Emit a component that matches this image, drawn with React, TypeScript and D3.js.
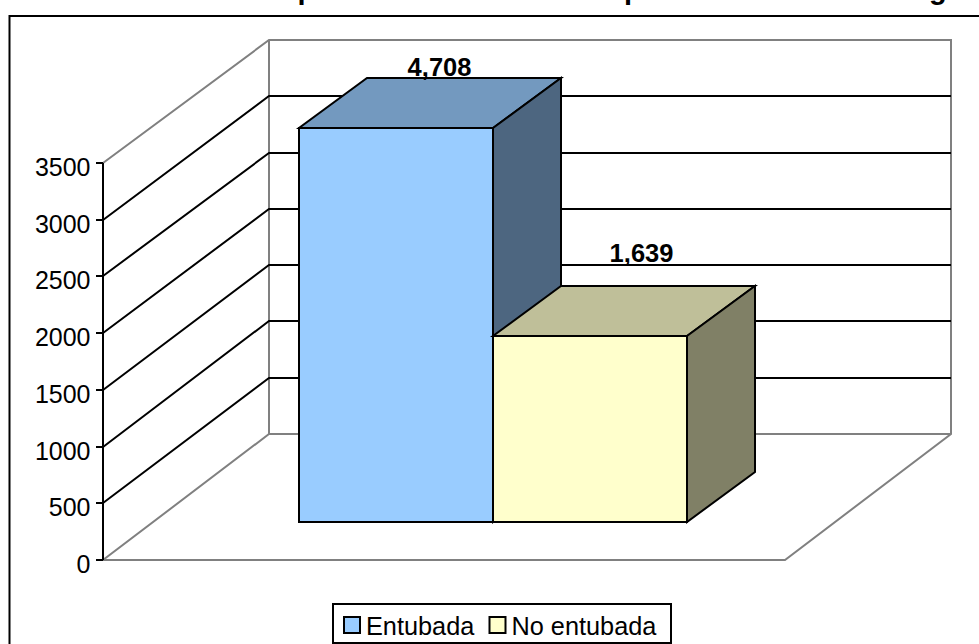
import React from "react";
import * as d3 from "d3";

// Values: the axis stops at 3500, so the taller bar is cut at the ceiling of the plot.
const seriesNames = ["Entubada", "No entubada"];
const seriesValues = [4708, 1639];
const seriesLabels = ["4,708", "1,639"];
const seriesColors = ["#99CCFF", "#FFFFCC"];
const axisTicks = [0, 500, 1000, 1500, 2000, 2500, 3000, 3500];
// The title is cropped by the top of the picture: only the descenders show, so its wording is inferred.
const titleWords = ["Viviendas", "particulares", "con", "disponibilidad", "de agua"];

const W = 979;
const H = 644;
const FONT = "'Liberation Sans', Arial, sans-serif";
const GREY = "#808080";

const shade = (c: string, k: number) => {
  const r = d3.rgb(c);
  return d3.rgb(r.r * k, r.g * k, r.b * k).formatHex();
};

export default function App() {
  // front and back planes of the 3D box
  const yFront = d3.scaleLinear().domain([0, 3500]).range([560, 163]);
  const yBack = d3.scaleLinear().domain([0, 3500]).range([434, 40]);
  const frontX = 103;
  const backX = 269;
  const frontRight = 785;
  const backRight = 951;
  const ddx = backX - frontX;
  const ddy = yFront(0) - yBack(0);
  const barNear = { x: 0.301, y: 0.303 };
  const barFar = { x: 0.711, y: 0.698 };

  const xBand = d3.scaleBand<string>().domain(seriesNames).range([249, 637]).padding(0);
  // bars rise on the front scale but cannot pass the box's ceiling
  const ceiling = yFront(0) - (yBack(0) - yBack(3500));
  const yBar = (v: number) => Math.max(yFront(v), ceiling);

  const project = (x: number, y: number, z: { x: number; y: number }): [number, number] => [
    x + ddx * z.x,
    y - ddy * z.y,
  ];
  const poly = (pts: [number, number][]) => pts.map((p) => `${Math.round(p[0])},${Math.round(p[1])}`).join(" ");

  const titleX = [154, 297.5, 470, 582, 871];
  const labelOffsets = [
    { dx: -24.5, dy: -2.5 },
    { dx: -16.5, dy: -24 },
  ];

  return (
    <svg
      width={W}
      height={H}
      viewBox={`0 0 ${W} ${H}`}
      style={{ position: "absolute", left: 0, top: 0, background: "#fff" }}
      fontFamily={FONT}
    >
      <text y={-1.5} fontSize={29} fontWeight="bold" fill="#000">
        {titleWords.map((w, i) => (
          <tspan key={w} x={titleX[i]}>
            {w}
          </tspan>
        ))}
      </text>

      <rect x={9.5} y={16} width={1100} height={900} fill="#fff" stroke="#000" strokeWidth={2} />

      {/* floor and walls */}
      <g fill="none" stroke={GREY} strokeWidth={2}>
        <polyline points={poly([[frontX, yFront(3500)], [backX, yBack(3500)], [backRight, yBack(3500)], [backRight, yBack(0)], [frontRight, yFront(0)], [frontX, yFront(0)], [backX, yBack(0)], [backRight, yBack(0)]])} />
        <line x1={backX} x2={backX} y1={yBack(3500)} y2={yBack(0)} />
      </g>

      {/* gridlines */}
      <g fill="none" stroke="#000" strokeWidth={2}>
        {axisTicks.slice(1, -1).map((t) => (
          <polyline key={t} points={poly([[frontX, yFront(t)], [backX, yBack(t)], [backRight, yBack(t)]])} />
        ))}
      </g>

      {/* value axis */}
      <line x1={frontX} x2={frontX} y1={yFront(3500)} y2={yFront(0)} stroke="#000" strokeWidth={2} />
      {axisTicks.map((t) => (
        <g key={t}>
          <line x1={frontX - 7} x2={frontX} y1={Math.round(yFront(t))} y2={Math.round(yFront(t))} stroke="#000" strokeWidth={2} />
          <text x={90.5} y={yFront(t) + 13} textAnchor="end" fontSize={25} fill="#000">
            {t}
          </text>
        </g>
      ))}

      {/* bars */}
      {seriesNames.map((name, i) => {
        const x0 = xBand(name)!;
        const x1 = x0 + xBand.bandwidth();
        const y0 = yFront(0);
        const yT = yBar(seriesValues[i]);
        const c = seriesColors[i];
        return (
          <g key={name} stroke="#000" strokeWidth={2} strokeLinejoin="miter">
            <polygon fill={shade(c, 0.75)} points={poly([project(x0, yT, barNear), project(x1, yT, barNear), project(x1, yT, barFar), project(x0, yT, barFar)])} />
            <polygon fill={shade(c, 0.5)} points={poly([project(x1, yT, barNear), project(x1, yT, barFar), project(x1, y0, barFar), project(x1, y0, barNear)])} />
            <polygon fill={c} points={poly([project(x0, yT, barNear), project(x1, yT, barNear), project(x1, y0, barNear), project(x0, y0, barNear)])} />
          </g>
        );
      })}

      {/* data labels */}
      {seriesNames.map((name, i) => {
        const [px, py] = project(xBand(name)! + xBand.bandwidth() / 2, yBar(seriesValues[i]), barFar);
        return (
          <text key={name} x={px + labelOffsets[i].dx} y={py + labelOffsets[i].dy} textAnchor="middle" fontSize={25.5} fontWeight="bold" fill="#000">
            {seriesLabels[i]}
          </text>
        );
      })}

      {/* legend */}
      <rect x={333} y={604} width={338} height={39} fill="#fff" stroke="#000" strokeWidth={2} />
      {seriesNames.map((name, i) => {
        const sx = [344, 489.5][i];
        return (
          <g key={name}>
            <rect x={sx} y={617} width={16} height={16} fill={seriesColors[i]} stroke="#000" strokeWidth={2} />
            <text x={sx + 22} y={635} fontSize={25.3} fill="#000">
              {name}
            </text>
          </g>
        );
      })}
    </svg>
  );
}
